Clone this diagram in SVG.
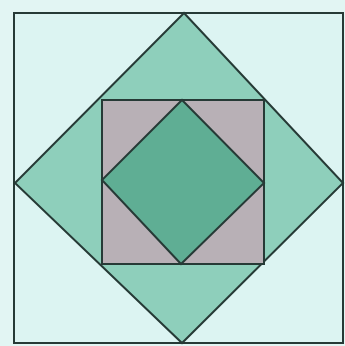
<svg xmlns="http://www.w3.org/2000/svg" width="345" height="346" viewBox="0 0 345 346">
<style>
.ln{stroke:#263a36;stroke-width:2;stroke-linejoin:miter}
</style>
<rect x="0" y="0" width="345" height="346" fill="#e2f5f3"/>
<g id="outer-square"><rect class="ln" x="14" y="13" width="329" height="330" fill="#dcf4f2"/></g>
<g id="outer-diamond"><polygon class="ln" points="184,13 343,183 182,343 15,183" fill="#8ecfbb"/></g>
<g id="inner-square"><rect class="ln" x="102" y="100" width="162" height="164" fill="#b8b0b6"/></g>
<g id="inner-diamond"><polygon class="ln" points="182,100 264,183 181,264 102,180" fill="#5fae94"/></g>
</svg>
